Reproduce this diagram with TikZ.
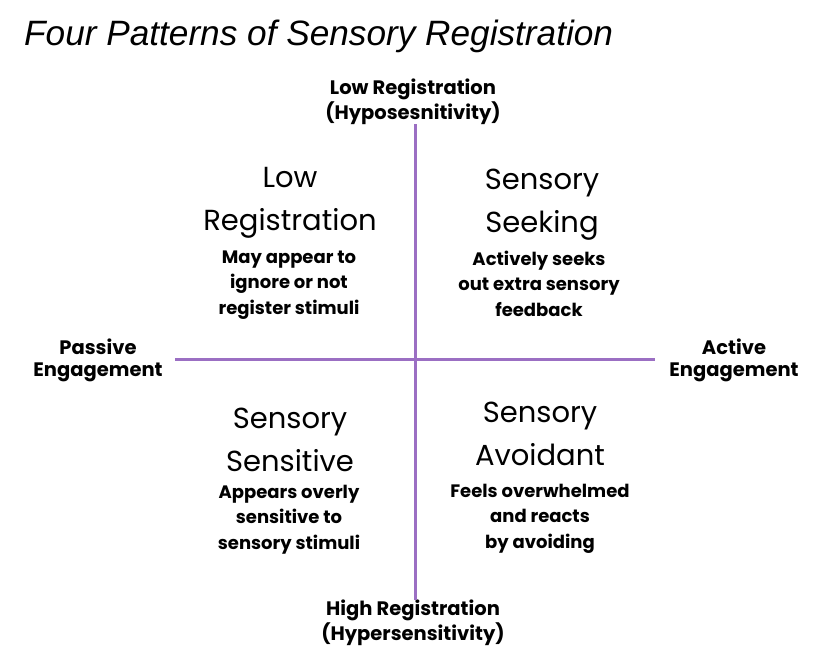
\documentclass[tikz,border=0pt]{standalone}
\usepackage{fontspec}
\setmainfont{Poppins}
\newfontfamily\titlefont{Liberation Sans}
\definecolor{axispurple}{HTML}{9B6FC3}

\begin{document}
\begin{tikzpicture}[x=1pt,y=-1pt,
    axis/.style={draw=axispurple, line width=3pt},
    heading/.style={anchor=base, align=center, inner sep=0pt, font=\fontsize{29}{43}\selectfont},
    blurb/.style={anchor=base, align=center, inner sep=0pt, font=\bfseries\fontsize{18}{25.5}\selectfont},
    pole/.style={anchor=base, align=center, inner sep=0pt, font=\bfseries\fontsize{19.5}{21.5}\selectfont}]

    \useasboundingbox (0,0) rectangle (839,667);

    \node[anchor=base west, inner sep=0pt, font=\titlefont\itshape\fontsize{35.2}{40}\selectfont] (title) at (24,45) {Four Patterns of Sensory Registration};

    \node[pole] (hypo) at (413,119) {Low Registration\\(Hyposesnitivity)};
    \node[pole] (hyper) at (413,640) {High Registration\\(Hypersensitivity)};
    \node[pole] (passive) at (98,376) {Passive\\Engagement};
    \node[pole] (active) at (734,376) {Active\\Engagement};

    \coordinate (axtop) at (415,124);
    \coordinate (axbot) at (415,600);
    \coordinate (axleft) at (175,359);
    \coordinate (axright) at (655,359);
    \draw[axis] (axtop) -- (axbot);
    \draw[axis] (axleft) -- (axright);

    \node[heading] (lowreg) at (290,230) {Low\\Registration};
    \node[blurb] (lowregtext) at (289,314) {May appear to\\ignore or not\\register stimuli};

    \node[heading] (seek) at (542,232) {Sensory\\Seeking};
    \node[blurb] (seektext) at (539,316) {Actively seeks\\out extra sensory\\feedback};

    \node[heading] (sens) at (290,471) {Sensory\\Sensitive};
    \node[blurb] (senstext) at (289,549) {Appears overly\\sensitive to\\sensory stimuli};

    \node[heading] (avoid) at (540,465) {Sensory\\Avoidant};
    \node[blurb] (avoidtext) at (540,548) {Feels overwhelmed\\and reacts\\by avoiding};

\end{tikzpicture}
\end{document}
